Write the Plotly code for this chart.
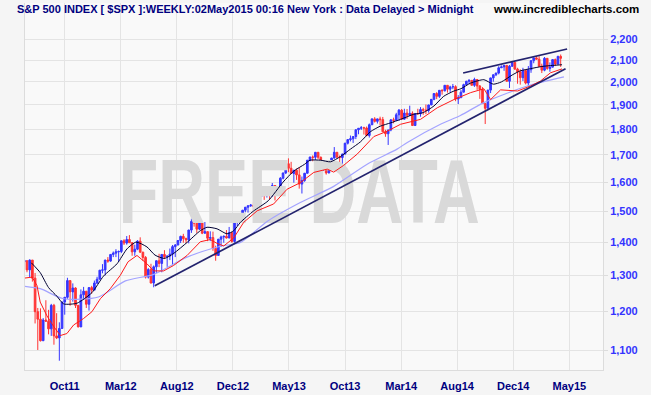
import pandas as pd
import plotly.graph_objects as go

# ---------------- data ----------------
first_week = "2011-07-08"

opens = [
 1340,1343,1316,1345,1292,1199,1179,1124,1177,1174,1154,1216,1136,1131,1155,1225,1238,1285,1253,1264,1216,1159,1245,1255,1219,1265,
 1258,1278,1289,1315,1316,1345,1342,1362,1366,1370,1371,1404,1397,1408,1398,1370,1378,1403,1369,1353,1295,1317,1278,1325,1343,1335,
 1362,1355,1357,1363,1386,1391,1405,1418,1411,1407,1438,1466,1460,1441,1461,1428,1433,1412,1414,1380,1359,1409,1416,1418,1413,1430,
 1402,1466,1472,1486,1503,1513,1518,1520,1516,1518,1551,1561,1556,1569,1553,1588,1555,1582,1614,1633,1667,1650,1631,1643,1626,1593,
 1606,1632,1680,1692,1691,1710,1691,1656,1664,1633,1655,1688,1710,1692,1690,1703,1745,1759,1762,1771,1798,1804,1806,1805,1775,1818,
 1842,1832,1842,1839,1790,1782,1797,1838,1836,1859,1878,1841,1866,1857,1865,1815,1864,1863,1881,1878,1877,1900,1924,1949,1937,1963,
 1961,1985,1968,1978,1979,1925,1931,1955,1988,2003,2007,1985,2011,1982,1967,1906,1886,1964,2018,2032,2040,2064,2068,2075,2003,2071,
 2089,2058,2045,2019,2051,1995,2055,2097,2110,2104,2071,2053,2108,2061,2067,2102,2081,2117]
highs = [
 1357,1344,1347,1345,1307,1209,1208,1182,1230,1204,1220,1220,1195,1171,1226,1239,1293,1285,1277,1266,1216,1260,1267,1255,1266,1270,
 1285,1296,1316,1333,1346,1354,1363,1371,1378,1374,1405,1409,1419,1422,1399,1392,1406,1415,1370,1357,1321,1334,1329,1344,1364,1363,
 1375,1358,1380,1391,1394,1406,1420,1426,1414,1439,1475,1467,1463,1471,1464,1464,1434,1434,1433,1389,1410,1420,1421,1438,1448,1431,
 1467,1473,1487,1504,1514,1519,1524,1530,1525,1552,1563,1562,1570,1573,1597,1589,1585,1618,1634,1668,1687,1674,1644,1649,1654,1620,
 1633,1681,1693,1698,1710,1711,1694,1665,1669,1664,1689,1730,1711,1698,1705,1746,1760,1775,1772,1799,1805,1813,1810,1811,1823,1844,
 1849,1843,1851,1850,1798,1798,1841,1847,1867,1883,1883,1884,1883,1897,1873,1865,1884,1891,1888,1902,1901,1925,1950,1955,1964,1968,
 1986,1986,1983,1991,1985,1942,1964,1992,2005,2012,2008,2019,2012,1986,1977,1907,1965,2019,2034,2041,2071,2075,2076,2076,2077,2094,
 2091,2064,2057,2064,2057,2072,2098,2111,2119,2118,2083,2114,2109,2089,2103,2107,2120,2126]
lows = [
 1334,1309,1295,1282,1168,1101,1122,1123,1172,1140,1136,1114,1128,1075,1155,1191,1234,1215,1226,1209,1158,1159,1232,1209,1202,1248,
 1258,1275,1289,1306,1300,1337,1340,1354,1354,1340,1366,1391,1392,1397,1358,1358,1375,1367,1343,1291,1291,1277,1266,1307,1324,1309,
 1348,1325,1345,1330,1354,1390,1397,1398,1397,1396,1429,1449,1429,1438,1425,1427,1403,1403,1373,1343,1358,1385,1398,1411,1412,1398,
 1398,1451,1463,1485,1496,1495,1514,1498,1485,1514,1549,1538,1546,1539,1548,1536,1553,1581,1610,1629,1636,1630,1598,1608,1577,1560,
 1601,1631,1676,1676,1681,1684,1652,1640,1627,1632,1654,1686,1687,1670,1646,1702,1740,1752,1746,1761,1780,1797,1779,1772,1767,1817,
 1827,1823,1815,1789,1770,1738,1792,1824,1835,1834,1839,1839,1842,1856,1814,1814,1859,1851,1859,1862,1868,1899,1920,1925,1930,1944,
 1958,1953,1956,1968,1916,1904,1930,1954,1987,1990,1984,1978,1965,1926,1905,1821,1885,1951,2001,2026,2034,2063,2050,2002,1973,2069,
 2054,1992,1988,2004,1989,1981,2041,2085,2103,2067,2040,2048,2055,2046,2066,2072,2080,2068]
closes = [
 1344,1316,1345,1292,1199,1179,1124,1177,1174,1154,1216,1136,1131,1155,1225,1238,1285,1253,1264,1216,1159,1245,1255,1219,1265,1258,
 1278,1289,1315,1316,1345,1342,1362,1366,1370,1371,1404,1397,1408,1398,1370,1378,1403,1369,1353,1295,1317,1278,1325,1343,1335,1362,
 1355,1357,1363,1386,1391,1405,1418,1411,1407,1438,1466,1460,1441,1461,1428,1433,1412,1414,1380,1359,1409,1416,1418,1413,1430,1402,
 1466,1472,1486,1503,1513,1518,1520,1516,1518,1551,1561,1556,1569,1553,1588,1555,1582,1614,1633,1667,1650,1631,1643,1626,1593,1606,
 1632,1680,1692,1691,1710,1691,1656,1664,1633,1655,1688,1710,1692,1690,1703,1745,1759,1762,1771,1798,1804,1806,1805,1775,1818,1842,
 1832,1842,1839,1790,1782,1797,1838,1836,1859,1878,1841,1866,1857,1865,1815,1864,1863,1881,1878,1877,1900,1924,1949,1937,1963,1961,
 1985,1968,1978,1979,1925,1931,1955,1988,2003,2007,1985,2011,1982,1967,1906,1886,1964,2018,2032,2040,2064,2068,2075,2003,2071,2089,
 2058,2045,2019,2051,1995,2055,2097,2110,2104,2071,2053,2108,2061,2067,2102,2081,2117,2108]

# indicator lines (week offset from first bar, value)
black_wk  = [2.6,5.9,9.0,12.1,14.6,19.6,25.1,29.4,34.4,38.1,41.5,45.5,48.5,52,55.4,60.4,65.3,67.8,71.5,75.2,77.7,80.2,85,90.5,96,100,
             104,106,110,113.6,117.3,121,124.7,128.4,132,136,139.6,144.5,148,152,155.6,159.4,162,165.6,170.5,174,177,181,184,187.8,192,196,199.5]
black_val = [1337,1308,1265,1241,1220,1222,1251,1298,1334,1379,1400,1385,1360,1350,1365,1399,1436,1447,1442,1426,1436,1463,1500,1535,1600,1640,
             1665,1680,1680,1674,1694,1722,1750,1790,1812,1826,1840,1861,1868,1896,1937,1960,1970,1995,2010,1990,2000,2031,2050,2060,2070,2075,2078]
red_wk  = [0,2.9,4.7,5.9,8.4,10.9,13.4,15.8,18.3,22.0,25.1,28.2,31.9,35.6,38.5,41.8,45.5,48,51.7,55.4,60.4,65.3,69,71.5,74,77.7,81.4,86.4,
           92.5,97.5,102.4,107.4,112.4,114.8,118.5,123.5,129.7,134.6,139.6,147,153.2,159.4,165.6,170.5,173,176.7,183,187.8,191.5,195.2,199.5]
red_val = [1292,1295,1271,1225,1188,1160,1137,1142,1164,1181,1199,1234,1262,1300,1340,1359,1334,1313,1313,1329,1359,1401,1408,1396,1388,1413,1463,1501,
           1524,1575,1598,1635,1647,1636,1661,1703,1771,1792,1820,1840,1888,1923,1953,1970,1923,1965,1960,1982,2004,2041,2059]
blue_wk  = [0,5.9,14.6,27.5,37.5,48,60.4,72.8,80.2,90.1,102.4,114.8,127.2,138.3,142.1,154.4,161.8,170.5,186.6,200.2]
blue_val = [1269,1262,1234,1239,1284,1303,1354,1387,1399,1466,1529,1585,1665,1722,1748,1820,1856,1910,1982,2023]

# trend lines (week offset, value)
trend_low_wk, trend_low_val = [48.4, 200.8], [1270, 2060]
trend_up_wk, trend_up_val = [162.8, 201.4], [2040, 2152]

x_tick_labels = ["Oct11", "Mar12", "Aug12", "Dec12", "May13", "Oct13", "Mar14", "Aug14", "Dec14", "May15"]
x_tick_weeks = [15.0, 35.8, 56.6, 77.4, 98.2, 119.0, 139.8, 160.6, 181.4, 202.2]
y_tick_vals = [1100, 1200, 1300, 1400, 1500, 1600, 1700, 1800, 1900, 2000, 2100, 2200]

title_text = "S&P 500 INDEX [ $SPX ]:WEEKLY:02May2015 00:16 New York : Data Delayed > Midnight"
site_text = "www.incrediblecharts.com"
watermark = "FREE DATA"

# ---------------- figure ----------------
t0 = pd.Timestamp(first_week)
dates = pd.date_range(first_week, periods=len(closes), freq="7D")
wk = lambda w: t0 + pd.Timedelta(days=7 * w)

FONT = "Arial, 'Liberation Sans', sans-serif"
fig = go.Figure()

fig.add_trace(go.Scatter(x=[wk(102.0)], y=[1542], mode="text", text=[watermark],
                         textfont=dict(family=FONT, size=70, color="#d9d9d9", weight="bold"),
                         hoverinfo="skip", showlegend=False))

fig.add_trace(go.Scatter(x=[wk(w) for w in blue_wk], y=blue_val, mode="lines",
                         line=dict(color="#a3a3ff", width=1.2, shape="spline", smoothing=0.7), showlegend=False))
fig.add_trace(go.Scatter(x=[wk(w) for w in red_wk], y=red_val, mode="lines",
                         line=dict(color="#ff1a1a", width=1), showlegend=False))
fig.add_trace(go.Scatter(x=[wk(w) for w in black_wk], y=black_val, mode="lines",
                         line=dict(color="#000033", width=1, shape="spline", smoothing=0.6), showlegend=False))

fig.add_trace(go.Candlestick(
    x=dates, open=opens, high=highs, low=lows, close=closes,
    increasing=dict(line=dict(color="#3535ff", width=1), fillcolor="#3535ff"),
    decreasing=dict(line=dict(color="#ff3333", width=1), fillcolor="#ff3333"),
    whiskerwidth=0, showlegend=False))

for wks, vals in [(trend_low_wk, trend_low_val), (trend_up_wk, trend_up_val)]:
    fig.add_trace(go.Scatter(x=[wk(w) for w in wks], y=vals, mode="lines",
                             line=dict(color="#23236e", width=1.7), showlegend=False))

fig.update_layout(
    width=651, height=395,
    margin=dict(l=25, r=48, t=3, b=23),
    paper_bgcolor="#f5f5f5", plot_bgcolor="#f9f9f9",
    showlegend=False, boxgap=0.12,
    font=dict(family=FONT, size=11),
    xaxis=dict(
        type="date", range=[wk(0.26), wk(214.7)],
        tickvals=[wk(w) for w in x_tick_weeks],
        ticktext=[f"<b>{t}</b>" for t in x_tick_labels],
        tickfont=dict(family=FONT, size=11, color="#000080"),
        showgrid=True, gridcolor="#e4e4e4", gridwidth=1,
        ticks="outside", ticklen=6, tickcolor="rgba(0,0,0,0)",
        showline=True, linecolor="#dcdcdc", linewidth=1,
        rangeslider=dict(visible=False), zeroline=False, fixedrange=True,
    ),
    yaxis=dict(
        type="log", side="right", range=[3.02242, 3.37737],
        tickvals=y_tick_vals,
        ticktext=[f"<b>{v:,}</b>" for v in y_tick_vals],
        tickfont=dict(family=FONT, size=11, color="#3333ff"),
        showgrid=True, gridcolor="#e4e4e4", gridwidth=1,
        ticks="outside", ticklen=4, tickcolor="#dcdcdc",
        showline=True, mirror=True, linecolor="#dcdcdc", linewidth=1,
        zeroline=False, fixedrange=True,
    ),
    annotations=[
        dict(xref="paper", yref="paper", x=(15 - 25) / 578, y=(372 - 9.5) / 369, xanchor="left", yanchor="middle",
             text=f"<b>{title_text}</b>", showarrow=False, font=dict(family=FONT, size=11, color="#000080")),
        dict(xref="paper", yref="paper", x=(641 - 25) / 578, y=(372 - 9.5) / 369, xanchor="right", yanchor="middle",
             text=f"<b>{site_text}</b>", showarrow=False, font=dict(family=FONT, size=11.5, color="#000000")),
    ],
)

# the watermark in the original is a tall condensed face: reshape the real SVG text
post_js = """
var gd = document.getElementById('{plot_id}');
function shapeWatermark(){
  gd.querySelectorAll('text').forEach(function(t){
    if (t.textContent !== 'FREE DATA') return;
    t.setAttribute('textLength', '361');
    t.setAttribute('lengthAdjust', 'spacingAndGlyphs');
    var base = t.getAttribute('data-basetf');
    if (base === null) { base = t.getAttribute('transform') || ''; t.setAttribute('data-basetf', base); }
    var b = t.getBBox();
    var cx = b.x + b.width / 2, cy = b.y + b.height / 2;
    t.setAttribute('transform', base + ' translate(' + cx + ',' + cy + ') scale(1,1.3) translate(' + (-cx) + ',' + (-cy) + ')');
  });
}
shapeWatermark();
setTimeout(shapeWatermark, 0);
if (gd.on) { gd.on('plotly_afterplot', shapeWatermark); }
"""

fig.write_html("out.html", post_script=post_js)
